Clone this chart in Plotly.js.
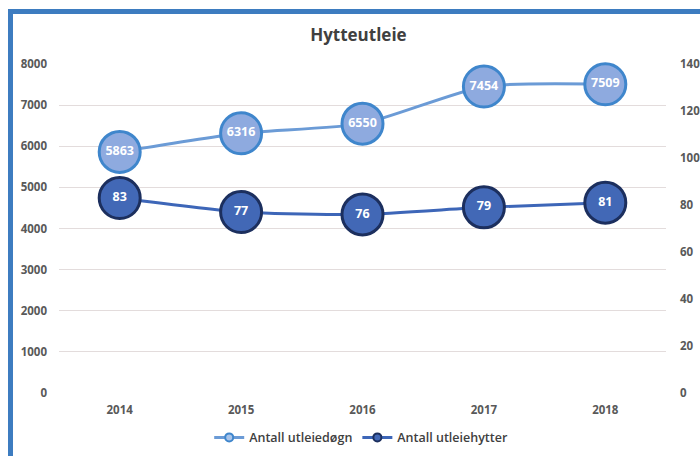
<!DOCTYPE html>
<html><head><meta charset="utf-8">
<script src="https://cdn.plot.ly/plotly-3.0.1.min.js"></script>
<style>
html,body{margin:0;padding:0;background:#fff;}
#wrap{position:relative;width:700px;height:456px;overflow:hidden;}
#chart{position:absolute;left:0;top:0;width:700px;height:456px;}
#frame{position:absolute;left:8px;top:9px;width:720px;height:470px;border-left:5px solid #3d7cc0;border-top:5px solid #3d7cc0;pointer-events:none;}
</style></head>
<body><div id="wrap"><div id="chart"></div><div id="frame"></div></div>
<script>
const years = ['2014','2015','2016','2017','2018'];
const utleiedogn = [5863, 6316, 6550, 7454, 7509];
const utleiehytter = [83, 77, 76, 79, 81];
const leftTicks = [0,1000,2000,3000,4000,5000,6000,7000,8000];
const rightTicks = [0,20,40,60,80,100,120,140];
const names = ['Antall utleiedøgn','Antall utleiehytter'];

const font = 'Open Sans, Liberation Sans, sans-serif';
const lightLine = '#6b9bd6', darkLine = '#3d66b8';
const tickFont = {size:11.5, color:'#595959', family:font, weight:'bold'};
const traces = [
 {x: years, y: utleiedogn, name: names[0], type:'scatter', mode:'lines+markers+text', showlegend:false,
  line:{color:lightLine, width:3, shape:'spline', smoothing:0.6},
  marker:{size:41, color:'#8eaadf', line:{color:'#3f86cc', width:3}},
  text: utleiedogn.map(String), textposition:'middle center',
  textfont:{color:'#ffffff', size:12.5, family:font, weight:'bold'}, cliponaxis:false},
 {x: years, y: utleiehytter, name: names[1], type:'scatter', mode:'lines+markers+text', yaxis:'y2', showlegend:false,
  line:{color:darkLine, width:3, shape:'spline', smoothing:0.6},
  marker:{size:41, color:'#4268b6', line:{color:'#1c2f5e', width:3}},
  text: utleiehytter.map(String), textposition:'middle center',
  textfont:{color:'#ffffff', size:12.5, family:font, weight:'bold'}, cliponaxis:false},
 {x:[null], y:[null], name: names[0], type:'scatter', mode:'lines+markers', showlegend:true,
  line:{color:lightLine, width:3}, marker:{size:8, color:'#a9c4ea', line:{color:'#3f86cc', width:2}}},
 {x:[null], y:[null], name: names[1], type:'scatter', mode:'lines+markers', showlegend:true,
  line:{color:darkLine, width:3}, marker:{size:8, color:'#4268b6', line:{color:'#1c2f5e', width:2}}}
];
const layout = {
 width:700, height:456,
 margin:{l:59, r:34, t:64, b:63},
 paper_bgcolor:'#ffffff', plot_bgcolor:'#ffffff',
 font:{family:font, color:'#595959'},
 title:{text:'<b>Hytteutleie</b>', x:0.512, xanchor:'center', y:0.923, yanchor:'middle', font:{size:17, color:'#404040', family:font}},
 xaxis:{type:'category', range:[-0.5,4.5], tickvals:years, ticktext:years, showgrid:false, zeroline:false, showline:false, ticks:'', automargin:false,
  tickfont:tickFont, ticklabelstandoff:8},
 yaxis:{range:[0,8000], tickvals:leftTicks, ticktext:leftTicks.map(String), showgrid:true, gridcolor:'#e3dcdc', gridwidth:1, automargin:false,
  zeroline:false, showline:false, ticks:'', tickfont:tickFont, ticklabelstandoff:11},
 yaxis2:{range:[0,140], overlaying:'y', side:'right', tickvals:rightTicks, ticktext:rightTicks.map(String), showgrid:false, automargin:false,
  zeroline:false, showline:false, ticks:'', tickfont:tickFont, ticklabelstandoff:13},
 showlegend:true,
 legend:{orientation:'h', xref:'container', yref:'container', x:0.516, xanchor:'center', y:0.04, yanchor:'middle',
  font:{size:12.5, color:'#404040', family:font, weight:600}, itemwidth:30, tracegroupgap:0}
};
Plotly.newPlot('chart', traces, layout, {displayModeBar:false, staticPlot:true});
</script></body></html>
